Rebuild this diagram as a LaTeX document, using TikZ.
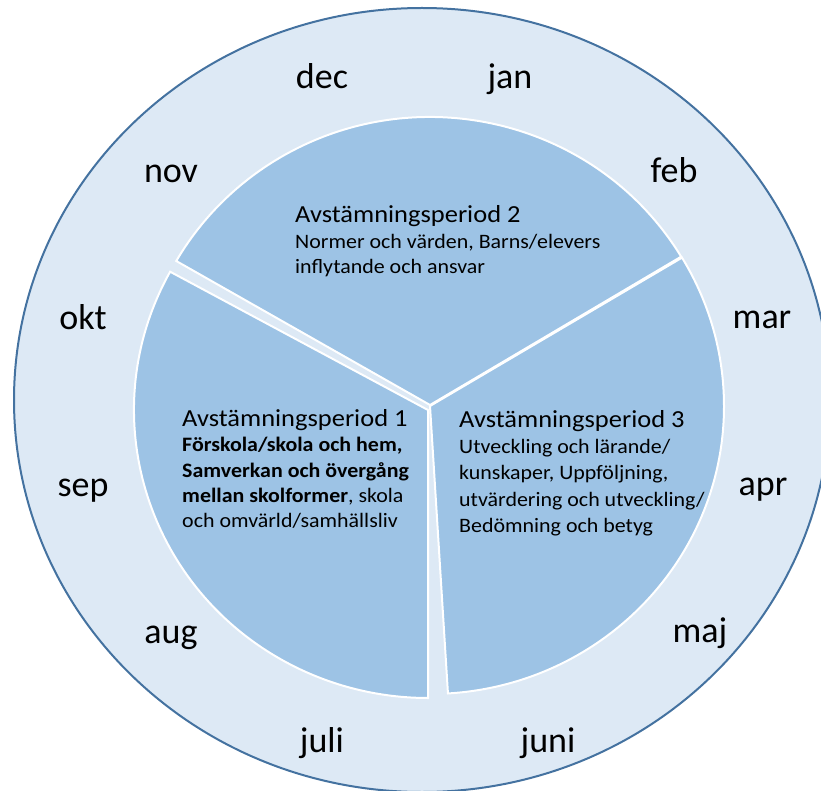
\documentclass[tikz,border=0pt]{standalone}
\usepackage{fontspec}
\setmainfont{Carlito}
\newfontfamily\bodyfont{Carlito}[FakeStretch=1.07]
\newfontfamily\titlefont{Carlito}[FakeStretch=1.08]
\definecolor{ringfill}{RGB}{221,233,245}
\definecolor{ringline}{RGB}{68,114,160}
\definecolor{piefill}{RGB}{157,195,229}
\tikzset{
  ring/.style={fill=ringfill, draw=ringline, line width=2pt},
  slice/.style={fill=piefill, draw=white, line width=2pt, line join=miter},
  month/.style={anchor=base, inner sep=0pt, font=\fontsize{36}{40}\selectfont},
  ttl/.style={anchor=base west, inner sep=0pt, font=\titlefont\fontsize{24.5}{28}\selectfont},
  body/.style={anchor=base west, inner sep=0pt, font=\bodyfont\fontsize{20.5}{25}\selectfont},
  bodyb/.style={anchor=base west, inner sep=0pt, font=\bodyfont\bfseries\fontsize{20.5}{25}\selectfont},
}
\begin{document}
\begin{tikzpicture}[x=1pt,y=-1pt]
\useasboundingbox (0,0) rectangle (821,791);
% outer ring
\draw[ring] (422,400) ellipse [x radius=408, y radius=392];
% slices
\filldraw[slice] (430,406) -- ++(86.5:294 and 288) arc[start angle=86.5, end angle=-31, x radius=294, y radius=288] -- cycle;
\filldraw[slice] (430,405) -- ++(-31:293 and 288) arc[start angle=-31, end angle=-150, x radius=293, y radius=288] -- cycle;
\filldraw[slice] (428,410) -- ++(-151.3:294 and 288) arc[start angle=-151.3, end angle=-270, x radius=294, y radius=288] -- cycle;
% months
\node[month] (dec) at (322,89) {dec};
\node[month] (jan) at (510,89) {jan};
\node[month] (nov) at (171,183) {nov};
\node[month] (feb) at (674,183) {feb};
\node[month] (okt) at (83,329) {okt};
\node[month] (mar) at (762,328) {mar};
\node[month] (sep) at (83,496) {sep};
\node[month] (apr) at (763,495) {apr};
\node[month] (aug) at (171,643) {aug};
\node[month] (maj) at (700,642) {maj};
\node[month] (juli) at (322,752) {juli};
\node[month] (juni) at (548,752) {juni};
% period 2
\node[ttl] (p2t) at (295,222.5) {Avstämningsperiod 2};
\node[body] (p2a) at (295,248.5) {Normer och värden, Barns/elevers};
\node[body] (p2b) at (295,274) {inflytande och ansvar};
% period 1
\node[ttl] (p1t) at (182,426) {Avstämningsperiod 1};
\node[bodyb] (p1a) at (182,451.5) {Förskola/skola och hem,};
\node[bodyb] (p1b) at (182,477) {Samverkan och övergång};
\node[body] (p1c) at (182,502) {{\bfseries mellan skolformer}, skola};
\node[body] (p1d) at (182,527.5) {och omvärld/samhällsliv};
% period 3
\node[ttl] (p3t) at (459,427) {Avstämningsperiod 3};
\node[body] (p3a) at (459,453) {Utveckling och lärande/};
\node[body] (p3b) at (459,479.5) {kunskaper, Uppföljning,};
\node[body] (p3c) at (459,506) {utvärdering och utveckling/};
\node[body] (p3d) at (459,532) {Bedömning och betyg};
\end{tikzpicture}
\end{document}
